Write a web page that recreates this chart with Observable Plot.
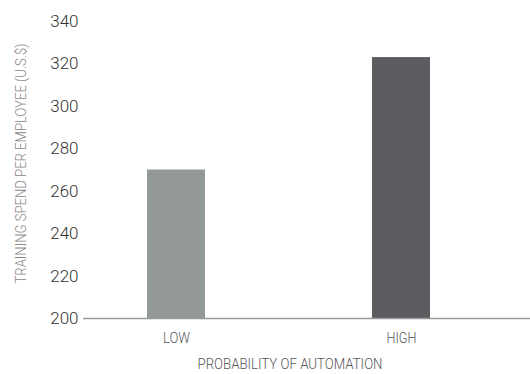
<!DOCTYPE html>
<html><head><meta charset="utf-8">
<script src="https://cdn.jsdelivr.net/npm/d3@7"></script>
<script src="https://cdn.jsdelivr.net/npm/@observablehq/plot@0.6"></script>
<style>
html,body{margin:0;padding:0;background:#fff;}
</style></head>
<body><div id="chart"></div>
<script>
const categories = ["LOW", "HIGH"];
const values = [270, 323];
const barColors = ["#939899", "#5c5d61"];
const yTicks = [200, 220, 240, 260, 280, 300, 320, 340];
const yTitle = ["TRAINING SPEND PER EMPLOYEE (U.S.$)"];
const xTitle = ["PROBABILITY OF AUTOMATION"];

const data = categories.map((c, i) => ({cat: c, value: values[i], color: barColors[i]}));

const chart = Plot.plot({
  width: 530,
  height: 374,
  marginLeft: 83,
  marginRight: 0,
  marginTop: 21,
  marginBottom: 56,
  style: {fontFamily: 'Roboto, sans-serif'},
  x: {domain: categories, range: [83, 493], paddingInner: 0.743, paddingOuter: 0.279},
  y: {domain: [200, 340]},
  marks: [
    Plot.barY(data, {x: "cat", y1: 200, y2: "value", fill: "color"}),
    Plot.ruleY([200], {stroke: "#9a9a9a", strokeWidth: 1.5}),
    Plot.axisY(yTicks, {tickSize: 0, tickPadding: 5, fontSize: 17, fontWeight: 300, fill: "#333", label: null}),
    Plot.axisX({tickSize: 0, tickPadding: 15, fontSize: 14, fontWeight: 300, fill: "#555", label: null}),
    Plot.text(yTitle, {frameAnchor: "left", rotate: -90, textAnchor: "start", lineAnchor: "middle", dx: -62, dy: 113.5, fontSize: 15, fontWeight: 300, fill: "#888"}),
    Plot.text(xTitle, {frameAnchor: "bottom", textAnchor: "start", lineAnchor: "middle", dx: -109.5, dy: 46, fontSize: 15, fontWeight: 300, fill: "#555"})
  ]
});
const fit = (label, len) => d3.select(chart).selectAll("text")
  .filter(function () { return this.textContent === label; })
  .attr("textLength", len).attr("lengthAdjust", "spacingAndGlyphs");
fit(yTitle[0], 240);
fit(xTitle[0], 185);
fit("LOW", 27);
fit("HIGH", 30);
document.getElementById("chart").appendChild(chart);
</script></body></html>
